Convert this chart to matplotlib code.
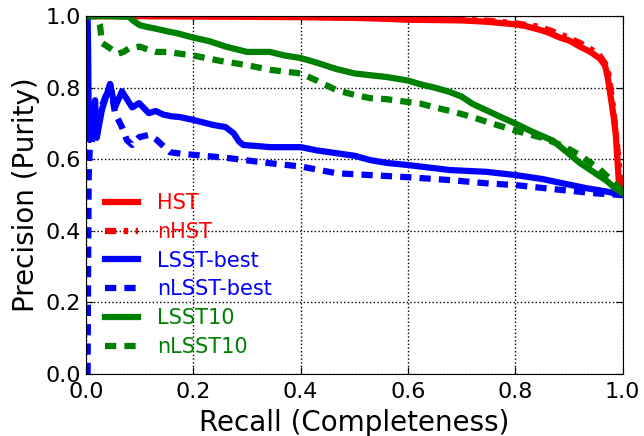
import matplotlib
matplotlib.use('Agg')
import matplotlib.pyplot as plt

# precision-recall curves, values
hst_r = [0, 0.1, 0.2, 0.3, 0.4, 0.5, 0.55, 0.6, 0.65, 0.7, 0.75, 0.8, 0.82, 0.845, 0.86, 0.883,
         0.9, 0.92, 0.94, 0.957, 0.967, 0.972, 0.978, 0.983, 0.987, 0.99, 0.993, 1.0]
hst_p = [1.0, 1.0, 0.999, 0.998, 0.997, 0.995, 0.993, 0.99, 0.989, 0.988, 0.984, 0.977, 0.972, 0.962,
         0.955, 0.94, 0.932, 0.915, 0.9, 0.882, 0.862, 0.83, 0.77, 0.72, 0.67, 0.6, 0.53, 0.51]

nhst_r = [0, 0.1, 0.2, 0.3, 0.4, 0.5, 0.6, 0.7, 0.75, 0.8, 0.845, 0.883, 0.92, 0.94, 0.957, 0.967,
          0.973, 0.978, 0.983, 0.988, 0.992, 0.995, 1.0]
nhst_p = [1.0, 1.0, 1.0, 0.999, 0.998, 0.996, 0.993, 0.99, 0.987, 0.98, 0.97, 0.95, 0.925, 0.908,
          0.89, 0.868, 0.84, 0.79, 0.73, 0.66, 0.6, 0.54, 0.51]

lsst_r = [0.003, 0.004, 0.005, 0.007, 0.01, 0.014, 0.017, 0.02, 0.03, 0.045, 0.054, 0.067, 0.086,
          0.099, 0.117, 0.13, 0.144, 0.16, 0.175, 0.2, 0.237, 0.26, 0.275, 0.285, 0.293, 0.32, 0.343,
          0.4, 0.43, 0.467, 0.5, 0.529, 0.56, 0.6, 0.678, 0.746, 0.8, 0.85, 0.888, 0.93, 0.97, 1.0]
lsst_p = [1.0, 0.9, 0.72, 0.654, 0.66, 0.72, 0.765, 0.66, 0.74, 0.81, 0.745, 0.79, 0.745,
          0.757, 0.729, 0.735, 0.725, 0.72, 0.718, 0.71, 0.696, 0.69, 0.673, 0.65, 0.64, 0.637, 0.634,
          0.634, 0.625, 0.617, 0.61, 0.598, 0.59, 0.584, 0.57, 0.565, 0.556, 0.545, 0.533, 0.52, 0.51, 0.5]

nlsst_r = [0.003, 0.004, 0.005, 0.007, 0.01, 0.015, 0.02, 0.03, 0.045, 0.054, 0.067, 0.076, 0.086,
           0.099, 0.117, 0.132, 0.156, 0.18, 0.206, 0.268, 0.343, 0.4, 0.467, 0.529, 0.6, 0.678,
           0.746, 0.8, 0.888, 0.95, 1.0]
nlsst_p = [0.0, 0.3, 0.55, 0.63, 0.64, 0.7, 0.72, 0.75, 0.81, 0.73, 0.69, 0.654, 0.64,
           0.662, 0.668, 0.654, 0.62, 0.615, 0.612, 0.603, 0.589, 0.58, 0.561, 0.556, 0.55, 0.542,
           0.533, 0.528, 0.514, 0.505, 0.5]

lsst10_r = [0, 0.04, 0.08, 0.09, 0.1, 0.113, 0.13, 0.15, 0.17, 0.2, 0.23, 0.26, 0.3, 0.343, 0.37,
            0.4, 0.43, 0.467, 0.5, 0.529, 0.56, 0.6, 0.622, 0.65, 0.678, 0.7, 0.72, 0.746, 0.77,
            0.8, 0.83, 0.87, 0.9, 0.92, 0.95, 0.97, 0.985, 1.0]
lsst10_p = [1.0, 1.0, 0.998, 0.985, 0.975, 0.97, 0.965, 0.958, 0.952, 0.94, 0.93, 0.915, 0.9, 0.9,
            0.89, 0.883, 0.87, 0.852, 0.84, 0.835, 0.83, 0.82, 0.81, 0.8, 0.788, 0.775, 0.755, 0.737,
            0.72, 0.70, 0.678, 0.652, 0.615, 0.59, 0.56, 0.54, 0.52, 0.505]

nlsst10_r = [0, 0.02, 0.026, 0.03, 0.04, 0.05, 0.06, 0.07, 0.08, 0.1, 0.113, 0.13, 0.15, 0.175, 0.2,
             0.25, 0.3, 0.343, 0.37, 0.4, 0.43, 0.467, 0.5, 0.529, 0.56, 0.6, 0.622, 0.65, 0.684,
             0.72, 0.746, 0.8, 0.85, 0.888, 0.92, 0.957, 0.98, 1.0]
nlsst10_p = [1.0, 1.0, 0.975, 0.925, 0.915, 0.905, 0.895, 0.9, 0.91, 0.915, 0.908, 0.9, 0.9, 0.895,
             0.89, 0.875, 0.863, 0.85, 0.845, 0.84, 0.82, 0.793, 0.78, 0.771, 0.768, 0.76, 0.756,
             0.745, 0.733, 0.718, 0.705, 0.68, 0.66, 0.638, 0.612, 0.572, 0.54, 0.51]

labels = ['HST', 'nHST', 'LSST-best', 'nLSST-best', 'LSST10', 'nLSST10']
colors = ['red', 'red', 'blue', 'blue', 'green', 'green']

plt.rcParams['xtick.direction'] = 'in'
plt.rcParams['ytick.direction'] = 'in'
plt.rcParams['xtick.top'] = True
plt.rcParams['ytick.right'] = True

fig = plt.figure(figsize=(6.44, 4.36), dpi=100)
ax = fig.add_axes([0.1335, 0.142, 0.8335, 0.821])

lw = 4.5
ax.plot(hst_r, hst_p, color=colors[0], lw=lw, label=labels[0])
ax.plot(nhst_r, nhst_p, color=colors[1], lw=lw, dashes=(1.8, 1.2, 0.7, 1.2), label=labels[1])
ax.plot(lsst_r, lsst_p, color=colors[2], lw=lw, label=labels[2])
ax.plot(nlsst_r, nlsst_p, color=colors[3], lw=lw, dashes=(1.8, 1.3), label=labels[3])
ax.plot(lsst10_r, lsst10_p, color=colors[4], lw=lw, label=labels[4])
ax.plot(nlsst10_r, nlsst10_p, color=colors[5], lw=lw, dashes=(1.8, 1.3), label=labels[5])

ax.set_xlim(0, 1)
ax.set_ylim(0, 1)
ax.grid(True, color='k', linestyle=':', lw=1)
ax.tick_params(labelsize=16, length=5)
ax.tick_params(axis='x', pad=6)
ax.set_xlabel('Recall (Completeness)', fontsize=20, labelpad=5)
ax.set_ylabel('Precision (Purity)', fontsize=20, labelpad=4)

leg = ax.legend(loc='center left', bbox_to_anchor=(0.035, 0.277), frameon=False, fontsize=15,
                handlelength=1.6, handletextpad=0.9, labelspacing=0.42, borderpad=0, borderaxespad=0)
for txt, c in zip(leg.get_texts(), colors):
    txt.set_color(c)

fig.savefig('out.png', dpi=100)
